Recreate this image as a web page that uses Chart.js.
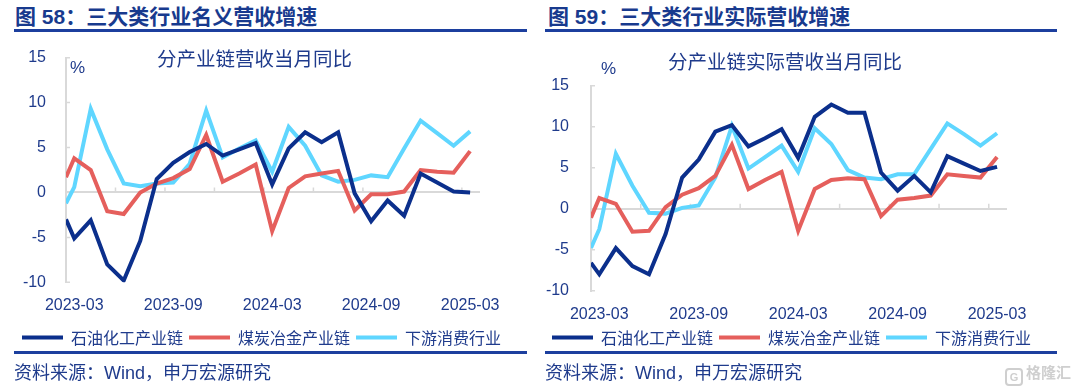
<!DOCTYPE html>
<html>
<head>
<meta charset="utf-8">
<script src="https://cdn.jsdelivr.net/npm/chart.js@4.4.1/dist/chart.umd.min.js"></script>
<style>
body { margin: 0; width: 1080px; height: 390px; position: relative; overflow: hidden; background: #fff;
  font-family: "Liberation Sans", "Noto Sans CJK SC", sans-serif; color: #1f3b8c; }
.t { position: absolute; white-space: nowrap; }
.head { font-size: 21px; font-weight: bold; line-height: 21px; top: 6px; color: #183a8e; }
.rule { position: absolute; height: 3px; background: #1c3f9e; }
.sub { font-family: "Noto Sans CJK SC", sans-serif; font-size: 19.5px; line-height: 20px; }
.pct { font-size: 17px; line-height: 17px; }
.src { font-size: 18px; line-height: 18px; top: 364px; }
canvas { position: absolute; top: 0; }
.wm { color: #cfcfcf; font-size: 15px; line-height: 18px; top: 364px; left: 1005px; font-weight: bold; }
.wm span { display: inline-block; width: 14px; height: 14px; border: 2px solid #cfcfcf; border-radius: 4px;
  font-size: 11px; line-height: 14px; text-align: center; margin-right: 3px; vertical-align: -3px; }
</style>
</head>
<body>
<div class="t head" style="left:15px">图 58：三大类行业名义营收增速</div>
<div class="rule" style="left:14px;width:513px;top:29px"></div>
<div class="t head" style="left:548px">图 59：三大类行业实际营收增速</div>
<div class="rule" style="left:545px;width:512px;top:29px"></div>

<canvas id="c58" width="540" height="390" style="left:0"></canvas>
<canvas id="c59" width="540" height="390" style="left:540px"></canvas>

<div class="t sub" style="left:157px;top:48px">分产业链营收当月同比</div>
<div class="t pct" style="left:70px;top:59px">%</div>
<div class="t sub" style="left:668px;top:51px">分产业链实际营收当月同比</div>
<div class="t pct" style="left:601px;top:60px">%</div>

<div class="rule" style="left:14px;width:513px;top:351px"></div>
<div class="rule" style="left:545px;width:512px;top:351px"></div>
<div class="t src" style="left:14px">资料来源：Wind，申万宏源研究</div>
<div class="t src" style="left:545px">资料来源：Wind，申万宏源研究</div>
<div class="t wm"><span>G</span>格隆汇</div>

<script>
// months; the first point (Jan-Feb) sits half a month before March on the source axis
const months = ['2023-02', '2023-03', '2023-04', '2023-05', '2023-06', '2023-07', '2023-08', '2023-09',
  '2023-10', '2023-11', '2023-12', '2024-01', '2024-02', '2024-03', '2024-04', '2024-05', '2024-06',
  '2024-07', '2024-08', '2024-09', '2024-10', '2024-11', '2024-12', '2025-01', '2025-02', '2025-03']
const tickMonths = ['2023-03', '2023-09', '2024-03', '2024-09', '2025-03']
const seriesNames = ['石油化工产业链', '煤炭冶金产业链', '下游消费行业']
const yTicks = [-10, -5, 0, 5, 10, 15]

// 图58 名义营收增速 %
const petroNominal = [-3.0, -5.1, -3.1, -8.0, -9.8, -5.4, 1.5, 3.3, 4.5, 5.4, 4.1, 4.8, 5.5,
  0.9, 4.9, 6.7, 5.6, 6.7, -0.1, -3.2, -0.9, -2.6, 2.1, 1.1, 0.1, 0.0]
const coalNominal = [1.7, 3.8, 2.5, -2.1, -2.4, 0.0, 1.0, 1.6, 2.6, 6.4, 1.2, 2.1, 3.1,
  -4.3, 0.5, 1.8, 2.1, 2.4, -2.0, -0.2, -0.2, 0.1, 2.5, 2.3, 2.2, 4.6]
const consumerNominal = [-1.2, 0.6, 9.3, 4.8, 1.0, 0.7, 1.0, 1.1, 3.2, 9.1, 3.9, 4.9, 5.8,
  2.3, 7.3, 5.2, 1.9, 1.2, 1.4, 1.9, 1.7, 4.9, 8.0, 6.6, 5.2, 6.8]

// 图59 实际营收增速 %
const petroReal = [-6.6, -8.0, -4.8, -7.0, -8.0, -3.1, 3.8, 6.0, 9.4, 10.2, 7.6, 8.6, 9.7,
  6.2, 11.2, 12.7, 11.7, 11.7, 4.4, 2.2, 4.0, 2.0, 6.4, 5.5, 4.6, 5.1]
const coalReal = [-1.1, 1.3, 0.6, -2.8, -2.7, 0.2, 1.7, 2.5, 4.0, 7.8, 2.4, 3.5, 4.5,
  -2.7, 2.4, 3.5, 3.7, 3.6, -0.9, 1.1, 1.3, 1.6, 4.2, 4.0, 3.8, 6.3]
const consumerReal = [-4.8, -2.5, 6.7, 2.8, -0.5, -0.6, 0.1, 0.4, 3.8, 10.1, 4.9, 6.3, 7.7,
  4.5, 9.8, 7.9, 4.7, 3.8, 3.6, 4.2, 4.2, 7.3, 10.4, 9.1, 7.7, 9.2]

const colors = ['#0b2f8c', '#e55f5c', '#5fd6ff']
const textColor = '#1f3b8c'
const gridColor = '#d9d9d9'

function monthPos(i) {
    return i === 0 ? -0.5 : i - 1
}

// little tick marks: up from the zero line every 3 months, and inside the y axis
const axisMarks = {
    id: 'axisMarks',
    beforeDatasetsDraw(chart) {
        const ctx = chart.ctx
        const x = chart.scales.x
        const y = chart.scales.y
        const y0 = y.getPixelForValue(0)
        ctx.save()
        ctx.strokeStyle = gridColor
        ctx.lineWidth = 1.5
        ctx.beginPath()
        for (let v = x.min + 3; v < x.max; v += 3) {
            const px = x.getPixelForValue(v)
            ctx.moveTo(px, y0)
            ctx.lineTo(px, y0 - 5)
        }
        yTicks.forEach(t => {
            const py = y.getPixelForValue(t)
            ctx.moveTo(y.right, py)
            ctx.lineTo(y.right + 4, py)
        })
        ctx.stroke()
        ctx.restore()
    }
}

function createChart(element, seriesValues, box) {
    const datasets = seriesValues.map((vals, k) => ({
        label: seriesNames[k],
        data: vals.map((v, i) => ({ x: monthPos(i), y: v })),
        borderColor: colors[k],
        backgroundColor: colors[k],
        borderWidth: 4,
        pointRadius: 0,
        tension: 0
    }))

    return new Chart(document.getElementById(element), {
        type: 'line',
        data: { datasets: datasets },
        plugins: [axisMarks],
        options: {
            responsive: false,
            animation: false,
            layout: { padding: { left: box.padLeft, top: box.top, right: 0, bottom: 34.5 } },
            plugins: {
                tooltip: { enabled: false },
                legend: {
                    position: 'bottom',
                    align: 'start',
                    labels: {
                        usePointStyle: true,
                        pointStyle: 'line',
                        pointStyleWidth: 41,
                        padding: 6,
                        color: textColor,
                        font: { family: '"Noto Sans CJK SC"', size: 16 }
                    }
                }
            },
            scales: {
                x: {
                    type: 'linear',
                    min: -0.5,
                    max: 24.6,
                    grid: { display: false },
                    border: { display: false },
                    afterBuildTicks: s => {
                        s.ticks = tickMonths.map(m => ({ value: monthPos(months.indexOf(m)) }))
                    },
                    afterFit: s => { s.height = box.xHeight },
                    ticks: {
                        autoSkip: false,
                        maxRotation: 0,
                        padding: 6,
                        color: textColor,
                        font: { size: 16 },
                        callback: v => months[months.findIndex((m, i) => monthPos(i) === v)]
                    }
                },
                y: {
                    min: -10,
                    max: 15,
                    afterBuildTicks: s => { s.ticks = yTicks.map(v => ({ value: v })) },
                    afterFit: s => { s.width = box.yWidth },
                    border: { display: true, color: gridColor, width: 2 },
                    grid: {
                        drawTicks: false,
                        lineWidth: 2,
                        color: c => (c.tick && c.tick.value === 0 ? gridColor : 'rgba(0,0,0,0)')
                    },
                    ticks: { padding: box.yPad, color: textColor, font: { size: 16 } }
                },
                // empty right-hand space so the plot ends where the reference does
                pad: {
                    type: 'linear',
                    position: 'right',
                    grid: { display: false },
                    border: { display: false },
                    ticks: { display: false },
                    afterFit: s => { s.width = box.rightSpace }
                }
            }
        }
    })
}

createChart('c58', [petroNominal, coalNominal, consumerNominal],
    { padLeft: 16, yWidth: 50, yPad: 20, top: 57.7, xHeight: 41.2, rightSpace: 60 })

createChart('c59', [petroReal, coalReal, consumerReal],
    { padLeft: 6, yWidth: 45, yPad: 22, top: 85.7, xHeight: 32.8, rightSpace: 73 })
</script>
</body>
</html>
